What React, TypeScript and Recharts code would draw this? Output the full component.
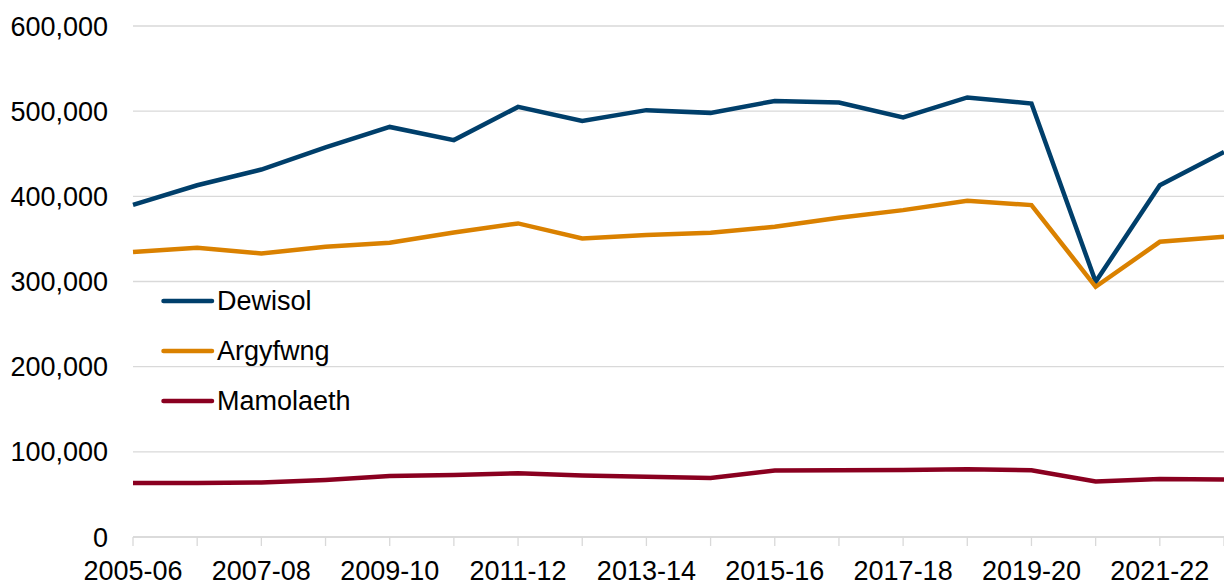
import React from 'react';
import { LineChart, Line, XAxis, YAxis, CartesianGrid } from 'recharts';

const years = [
  '2005-06', '2006-07', '2007-08', '2008-09', '2009-10', '2010-11', '2011-12', '2012-13', '2013-14',
  '2014-15', '2015-16', '2016-17', '2017-18', '2018-19', '2019-20', '2020-21', '2021-22', '2022-23',
];
const dewisol = [
  390000, 413000, 431500, 457500, 481500, 466000, 505000, 488600, 501200,
  498000, 512000, 510200, 492600, 516100, 509000, 299600, 413100, 452200,
];
const argyfwng = [
  334500, 339600, 333000, 340700, 345400, 357600, 368200, 350600, 354500,
  357200, 364200, 374800, 383800, 394700, 389700, 293800, 346600, 352500,
];
const mamolaeth = [
  63500, 63500, 64000, 67000, 71600, 72800, 74800, 72300, 70600,
  69400, 78000, 78400, 78800, 79600, 78400, 65100, 68200, 67500,
];
const yTicks = [0, 100000, 200000, 300000, 400000, 500000, 600000];

const series = [
  { key: 'dewisol', name: 'Dewisol', color: '#003f6b' },
  { key: 'argyfwng', name: 'Argyfwng', color: '#da8100' },
  { key: 'mamolaeth', name: 'Mamolaeth', color: '#8a0020' },
];

const data = years.map((year, i) => ({
  year,
  dewisol: dewisol[i],
  argyfwng: argyfwng[i],
  mamolaeth: mamolaeth[i],
}));

const FONT = '"Liberation Sans", Arial, sans-serif';

// tick mark on every year, label on every other one (y is the axis line here)
const XTick = (props: any) => {
  const { x, y, payload, index } = props;
  return (
    <g>
      <line x1={x} y1={y} x2={x} y2={y + 9} stroke="#d9d9d9" strokeWidth={1.3} />
      {index % 2 === 0 && (
        <text x={x} y={y + 33} dy="0.355em" textAnchor="middle" fill="#000" fontSize={27} fontFamily={FONT}>
          {payload.value}
        </text>
      )}
    </g>
  );
};

// legend sits inside the plot, drawn on top of the chart
const ChartLegend = () => (
  <div
    style={{
      position: 'absolute',
      left: 161,
      top: 276,
      fontFamily: FONT,
      fontSize: 27,
      color: '#000',
      lineHeight: '50px',
    }}
  >
    {series.map((s) => (
      <div key={s.key} style={{ display: 'flex', alignItems: 'center', height: 50 }}>
        <svg width={56} height={10}>
          <line x1={2.5} y1={5} x2={51} y2={5} stroke={s.color} strokeWidth={4.5} strokeLinecap="round" />
        </svg>
        <span>{s.name}</span>
      </div>
    ))}
  </div>
);

export default function App() {
  return (
    <div style={{ position: 'absolute', left: 0, top: 0, width: 1224, height: 586, background: '#fff' }}>
      <LineChart width={1224} height={586} data={data} margin={{ top: 26, right: 0, bottom: 0, left: 0 }}>
        <CartesianGrid vertical={false} stroke="#d9d9d9" strokeWidth={1.3} />
        <XAxis
          dataKey="year"
          height={49}
          interval={0}
          tick={<XTick />}
          tickSize={0}
          tickMargin={0}
          tickLine={false}
          axisLine={{ stroke: '#d9d9d9', strokeWidth: 1.3 }}
        />
        <YAxis
          width={133}
          domain={[0, 600000]}
          ticks={yTicks}
          tickFormatter={(v: number) => v.toLocaleString('en-US')}
          tickSize={0}
          tickMargin={25}
          tickLine={false}
          axisLine={false}
          tick={{ fill: '#000', fontSize: 27, fontFamily: FONT }}
        />
        {series.map((s) => (
          <Line
            key={s.key}
            type="linear"
            dataKey={s.key}
            name={s.name}
            stroke={s.color}
            strokeWidth={4.5}
            dot={false}
            activeDot={false}
            isAnimationActive={false}
          />
        ))}
      </LineChart>
      <ChartLegend />
    </div>
  );
}
